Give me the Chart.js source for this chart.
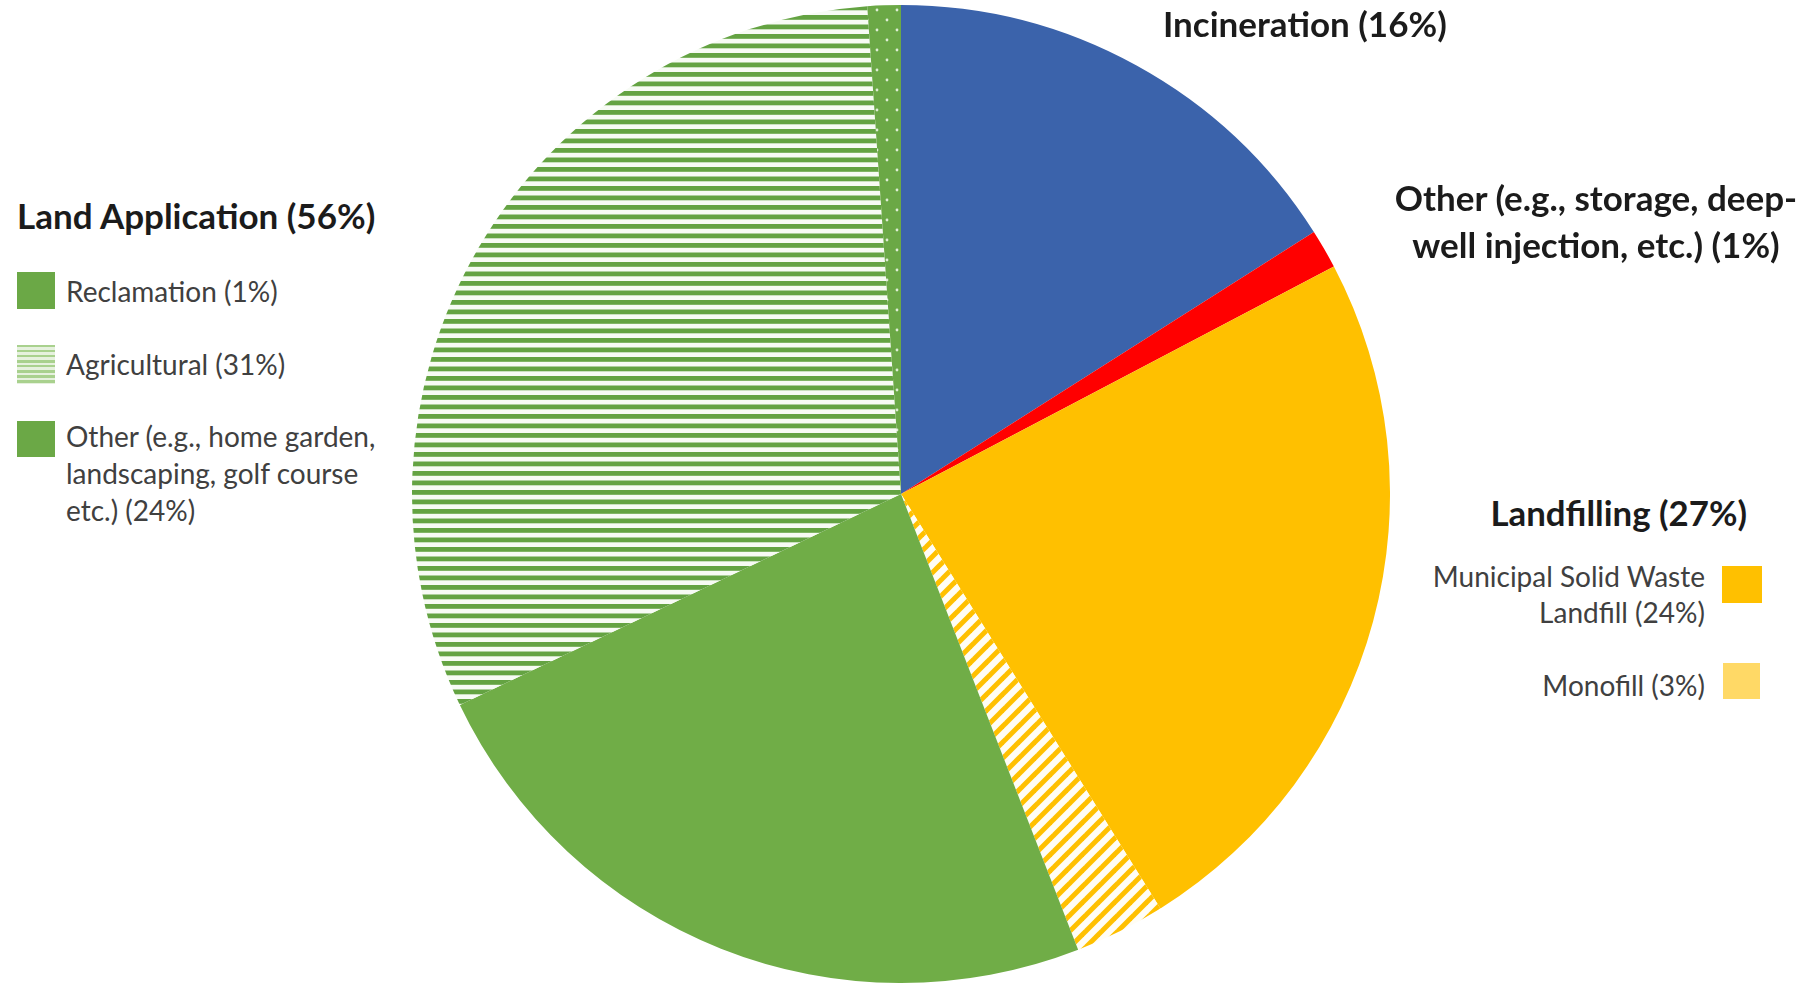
<!DOCTYPE html>
<html><head><meta charset="utf-8">
<script src="https://cdn.jsdelivr.net/npm/chart.js@4.4.1/dist/chart.umd.min.js"></script>
<style>
html,body{margin:0;padding:0;background:#fff;width:1797px;height:986px;overflow:hidden;position:relative;font-family:Lato,"Open Sans",sans-serif;}
#wrap{position:absolute;left:412px;top:5px;width:978px;height:978px;}
.t{position:absolute;white-space:nowrap;}
.h{font-weight:700;color:#1b1b1b;font-size:35px;line-height:42px;}
.l{font-weight:400;color:#404040;font-size:28px;line-height:37px;}
.sw{position:absolute;}
</style></head>
<body>
<div id="wrap"><canvas id="c"></canvas></div>

<div class="t h" style="left:1163px;top:2px;">Incineration (16%)</div>
<div class="t h" style="left:1346px;top:174px;width:500px;text-align:center;line-height:47px;">Other (e.g., storage, deep-<br>well injection, etc.) (1%)</div>
<div class="t h" style="left:17px;top:194px;">Land Application (56%)</div>
<div class="t h" style="right:50px;top:492px;text-align:right;font-size:34.8px;">Landfilling (27%)</div>

<div class="sw" style="left:17px;top:272px;width:38px;height:37px;background:#6BA846;"></div>
<div class="t l" style="left:66px;top:273px;">Reclamation (1%)</div>
<div class="sw" style="left:17px;top:345px;width:38px;height:39px;background:repeating-linear-gradient(to bottom,#a9d18e 0px,#a9d18e 2.5px,#e6f1de 2.5px,#e6f1de 5px);"></div>
<div class="t l" style="left:66px;top:346px;">Agricultural (31%)</div>
<div class="sw" style="left:17px;top:421px;width:38px;height:36px;background:#6BA846;"></div>
<div class="t l" style="left:66px;top:418px;">Other (e.g., home garden,<br>landscaping, golf course<br>etc.) (24%)</div>

<div class="t l" style="right:92px;top:558px;text-align:right;line-height:36px;">Municipal Solid Waste<br>Landfill (24%)</div>
<div class="sw" style="left:1722px;top:566px;width:40px;height:37px;background:#FFC000;"></div>
<div class="t l" style="right:92px;top:667px;text-align:right;">Monofill (3%)</div>
<div class="sw" style="left:1723px;top:663px;width:37px;height:36px;background:#FFD966;"></div>

<script>
// Categories in clockwise order starting at 12 o'clock
const categories = ["Incineration","Other (storage, deep-well injection)","Municipal Solid Waste Landfill","Monofill","Other land application (home garden, landscaping, golf course)","Agricultural","Reclamation"];
const shares = [16, 1.3, 23.8, 3, 23.8, 31, 1.1];

const BLUE = '#3B63AB', RED = '#FF0000', YELLOW = '#FFC000', GREEN = '#70AD47';

function hStripes(){
  const c=document.createElement('canvas');c.width=19;c.height=19;
  const x=c.getContext('2d');
  x.fillStyle='#f7fbf4';x.fillRect(0,0,19,19);
  x.fillStyle='#64a342';x.fillRect(0,0.5,19,4.8);x.fillRect(0,10,19,4.8);
  return x.createPattern(c,'repeat');
}
function diagStripes(){
  const s=16;const c=document.createElement('canvas');c.width=s;c.height=s;
  const x=c.getContext('2d');
  x.fillStyle='#fffdf5';x.fillRect(0,0,s,s);
  x.strokeStyle=YELLOW;x.lineWidth=5;x.lineCap='square';
  for(const o of [-s,0,s]){x.beginPath();x.moveTo(o,s);x.lineTo(o+s,0);x.stroke();}
  return x.createPattern(c,'repeat');
}
function dots(){
  const c=document.createElement('canvas');c.width=20;c.height=20;
  const x=c.getContext('2d');
  x.fillStyle='#6BA846';x.fillRect(0,0,20,20);
  x.fillStyle='rgba(235,245,228,0.9)';
  for(const [a,b] of [[5,5],[15,15]]){x.beginPath();x.arc(a,b,1.4,0,Math.PI*2);x.fill();}
  return x.createPattern(c,'repeat');
}

const colors=[BLUE, RED, YELLOW, diagStripes(), GREEN, hStripes(), dots()];

new Chart(document.getElementById('c'),{
  type:'pie',
  data:{labels:categories,datasets:[{data:shares,backgroundColor:colors,borderWidth:0,hoverOffset:0}]},
  options:{
    responsive:true,maintainAspectRatio:false,animation:false,
    layout:{padding:0},
    plugins:{legend:{display:false},tooltip:{enabled:false}},
    events:[]
  }
});
</script>
</body></html>
